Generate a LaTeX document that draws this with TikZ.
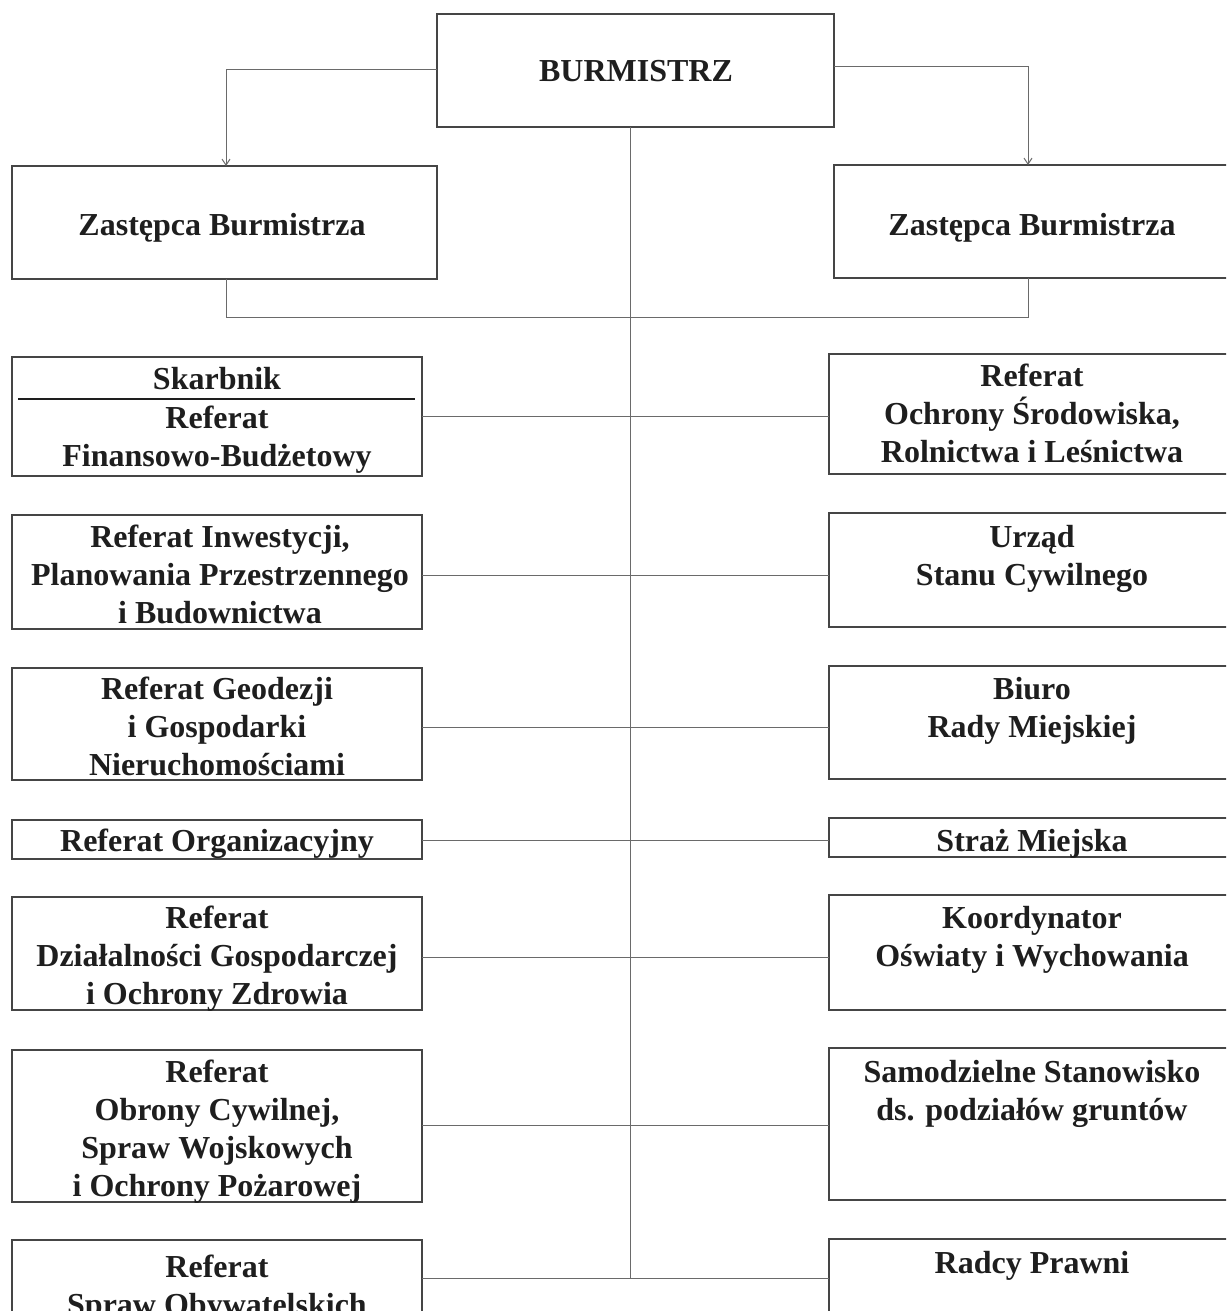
\documentclass[tikz,border=0pt]{standalone}
\usepackage{fontspec}
\setmainfont{Liberation Serif}
\usetikzlibrary{arrows.meta,calc}
\definecolor{ink}{HTML}{1E1E1E}
\definecolor{boxc}{HTML}{454545}
\definecolor{linkc}{HTML}{6A6A6A}
\begin{document}
\begin{tikzpicture}[x=1pt,y=-1pt,
  box/.style={draw=boxc,line width=1.5pt,inner sep=0pt,outer sep=0pt,anchor=north west},
  lbl/.style={font=\bfseries\fontsize{32}{38}\selectfont,text=ink,align=center,inner sep=0pt,anchor=north,execute at begin node=\strut},
  link/.style={draw=linkc,line width=1pt},
  arr/.style={link,-{Straight Barb[length=6pt,width=8pt]}},
  rulestyle/.style={draw=ink,line width=2.6pt}]
\useasboundingbox[fill=white] (0,0) rectangle (1226,1311);
\clip (0,0) rectangle (1226,1311);
% boxes
\node[box,minimum width=397pt,minimum height=113pt] (B) at (437,14) {};
\node[box,minimum width=425pt,minimum height=113pt] (ZL) at (12,166) {};
\node[box,minimum width=410pt,minimum height=113pt] (ZR) at (834,165) {};
\node[box,minimum width=410pt,minimum height=119pt] (L1) at (12,357) {};
\node[box,minimum width=410pt,minimum height=114pt] (L2) at (12,515) {};
\node[box,minimum width=410pt,minimum height=112pt] (L3) at (12,668) {};
\node[box,minimum width=410pt,minimum height=39pt] (L4) at (12,820) {};
\node[box,minimum width=410pt,minimum height=113pt] (L5) at (12,897) {};
\node[box,minimum width=410pt,minimum height=152pt] (L6) at (12,1050) {};
\node[box,minimum width=410pt,minimum height=100pt] (L7) at (12,1240) {};
\node[box,minimum width=410pt,minimum height=120pt] (R1) at (829,354) {};
\node[box,minimum width=410pt,minimum height=114pt] (R2) at (829,513) {};
\node[box,minimum width=410pt,minimum height=113pt] (R3) at (829,666) {};
\node[box,minimum width=410pt,minimum height=39pt] (R4) at (829,818) {};
\node[box,minimum width=410pt,minimum height=115pt] (R5) at (829,895) {};
\node[box,minimum width=410pt,minimum height=152pt] (R6) at (829,1048) {};
\node[box,minimum width=410pt,minimum height=100pt] (R7) at (829,1239) {};
% texts
\node[lbl] (tB) at (636,55) {BURMISTRZ};
\node[lbl] (tZL) at (222,209) {Zastępca Burmistrza};
\node[lbl] (tZR) at (1032,209) {Zastępca Burmistrza};
\node[lbl] (tL1a) at (217,363) {Skarbnik};
\node[lbl] (tL1b) at (217,406) {Referat\\Finansowo-Budżetowy};
\node[lbl] (tL2) at (220,525) {Referat Inwestycji,\\Planowania Przestrzennego\\i Budownictwa};
\node[lbl] (tL3) at (217,677) {Referat Geodezji\\i Gospodarki\\Nieruchomościami};
\node[lbl] (tL4) at (217,825) {Referat Organizacyjny};
\node[lbl] (tL5) at (217,906) {Referat\\Działalności Gospodarczej\\i Ochrony Zdrowia};
\node[lbl] (tL6) at (217,1060) {Referat\\Obrony Cywilnej,\\Spraw Wojskowych\\i Ochrony Pożarowej};
\node[lbl] (tL7) at (217,1255) {Referat\\Spraw Obywatelskich};
\node[lbl] (tR1) at (1032,364) {Referat\\Ochrony Środowiska,\\Rolnictwa i Leśnictwa};
\node[lbl] (tR2) at (1032,525) {Urząd\\Stanu Cywilnego};
\node[lbl] (tR3) at (1032,677) {Biuro\\Rady Miejskiej};
\node[lbl] (tR4) at (1032,825) {Straż Miejska};
\node[lbl] (tR5) at (1032,906) {Koordynator\\Oświaty i Wychowania};
\node[lbl] (tR6) at (1032,1060) {Samodzielne Stanowisko\\ds. podziałów gruntów};
\node[lbl] (tR7) at (1032,1247) {Radcy Prawni};
% Skarbnik rule
\coordinate (sk) at (0,399);
\draw[rulestyle] ($(L1.west |- sk)+(6,0)$) -- ($(L1.east |- sk)+(-7,0)$);
% helper coordinates
\coordinate (al) at (226,70);
\coordinate (ar) at (1028,67);
\coordinate (bl) at (226,317);
\coordinate (br) at (1028,317);
\coordinate (tk) at (630,0);
\coordinate (k1) at (0,416);
\coordinate (k2) at (0,575);
\coordinate (k3) at (0,727);
\coordinate (k4) at (0,840);
\coordinate (k5) at (0,957);
\coordinate (k6) at (0,1125);
\coordinate (k7) at (0,1278);
% connectors
\draw[arr] (B.west |- al) -- (al) -- (al |- ZL.north);
\draw[arr] (B.east |- ar) -- (ar) -- (ar |- ZR.north);
\draw[link] (bl |- ZL.south) -- (bl) -- (br) -- (br |- ZR.south);
\draw[link] (B.south -| tk) -- (tk |- k7);
\draw[link] (L1.east |- k1) -- (R1.west |- k1);
\draw[link] (L2.east |- k2) -- (R2.west |- k2);
\draw[link] (L3.east |- k3) -- (R3.west |- k3);
\draw[link] (L4.east |- k4) -- (R4.west |- k4);
\draw[link] (L5.east |- k5) -- (R5.west |- k5);
\draw[link] (L6.east |- k6) -- (R6.west |- k6);
\draw[link] (L7.east |- k7) -- (R7.west |- k7);
\end{tikzpicture}
\end{document}
